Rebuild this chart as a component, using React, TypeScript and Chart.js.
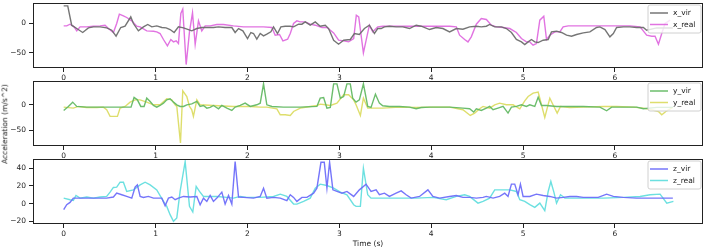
import React, { useEffect, useRef } from "react";
import { Chart, registerables } from "chart.js";
Chart.register(...registerables);

// ---------- data ----------
const xTicks = [0, 1, 2, 3, 4, 5, 6];

const xVirT = [0, 0.044, 0.087, 0.142, 0.207, 0.269, 0.323, 0.396, 0.468, 0.523, 0.57, 0.621, 0.668, 0.73, 0.759, 0.813, 0.868, 0.915, 0.959, 1.013, 1.068, 1.115, 1.158, 1.202, 1.249, 1.304, 1.358, 1.394, 1.449, 1.503, 1.558, 1.63, 1.685, 1.757, 1.83, 1.866, 1.903, 1.95, 2.001, 2.037, 2.066, 2.102, 2.139, 2.175, 2.211, 2.255, 2.284, 2.327, 2.364, 2.411, 2.465, 2.502, 2.556, 2.593, 2.629, 2.683, 2.738, 2.792, 2.847, 2.883, 2.938, 2.992, 3.047, 3.119, 3.164, 3.218, 3.273, 3.327, 3.382, 3.418, 3.455, 3.491, 3.545, 3.618, 3.691, 3.764, 3.836, 3.891, 3.982, 4.055, 4.127, 4.2, 4.273, 4.345, 4.418, 4.491, 4.545, 4.6, 4.636, 4.691, 4.764, 4.818, 4.873, 4.927, 4.982, 5.018, 5.055, 5.091, 5.127, 5.164, 5.218, 5.273, 5.309, 5.364, 5.418, 5.473, 5.527, 5.582, 5.655, 5.727, 5.8, 5.836, 5.891, 5.945, 5.982, 6.018, 6.091, 6.164, 6.236, 6.309, 6.345, 6.455, 6.63];
const xVir = [29.2, 29.2, -3.4, -9.0, -15.7, -7.9, -6.2, -6.2, -7.9, -11.8, -21.9, -7.3, -5.1, 10.7, -0.6, -12.9, -6.2, -2.2, -6.2, -4.5, -7.3, -7.9, -10.7, -15.7, -6.2, -7.9, -10.7, -12.9, -9.0, -7.3, -7.3, -7.3, -6.2, -7.3, -7.3, -15.7, -9.0, -12.9, -25.9, -15.7, -17.4, -27.0, -17.4, -21.4, -18.5, -14.6, -6.2, -17.4, -6.2, -5.1, -5.1, -6.2, -1.7, -1.7, 2.2, -3.4, 2.2, -5.1, -3.4, -9.0, -28.7, -35.4, -28.7, -27.5, -17.4, -19.1, -9.0, -3.4, -17.4, -9.0, -9.0, -6.2, -5.1, -6.2, -6.2, -9.0, -3.4, -5.1, -10.7, -7.3, -9.0, -14.6, -9.0, -10.1, -6.2, -5.1, -6.2, -5.1, -2.2, -6.2, -6.2, -9.0, -15.7, -27.5, -31.5, -36.0, -31.5, -27.5, -31.5, -32.6, -28.7, -27.5, -14.6, -13.5, -15.7, -20.2, -21.9, -19.1, -16.3, -14.6, -7.3, -6.2, -10.7, -23.0, -17.4, -7.3, -6.2, -6.2, -7.3, -7.3, -11.8, -8.0, -8.0];

const xRealT = [0, 0.033, 0.069, 0.113, 0.142, 0.178, 0.251, 0.323, 0.396, 0.45, 0.487, 0.541, 0.577, 0.606, 0.65, 0.686, 0.741, 0.795, 0.832, 0.904, 0.977, 1.013, 1.049, 1.086, 1.129, 1.166, 1.195, 1.224, 1.249, 1.275, 1.296, 1.333, 1.369, 1.402, 1.431, 1.467, 1.503, 1.54, 1.594, 1.667, 1.739, 1.848, 1.957, 2.066, 2.175, 2.266, 2.302, 2.349, 2.386, 2.437, 2.466, 2.502, 2.538, 2.574, 2.629, 2.683, 2.738, 2.811, 2.865, 2.938, 2.992, 3.047, 3.101, 3.156, 3.185, 3.211, 3.262, 3.327, 3.364, 3.418, 3.473, 3.655, 3.836, 4.018, 4.2, 4.273, 4.309, 4.364, 4.4, 4.436, 4.491, 4.545, 4.6, 4.655, 4.709, 4.782, 4.855, 4.927, 4.982, 5.036, 5.073, 5.109, 5.145, 5.182, 5.225, 5.255, 5.291, 5.345, 5.4, 5.436, 5.491, 5.655, 5.873, 6.018, 6.164, 6.273, 6.345, 6.4, 6.436, 6.473, 6.509, 6.545, 6.6];
const xReal = [-4.5, -4.5, -1.7, -6.2, -12.9, -6.2, -6.2, -5.1, -4.5, -3.4, -9.0, -15.7, -0.6, 15.2, 12.4, 9.6, 3.9, -5.1, -6.2, -12.9, -13.5, -14.6, -17.4, -27.5, -38.2, -27.5, -31.5, -29.8, -34.3, 16.3, 23.6, -69.7, -14.6, 17.4, -36.0, 3.9, -12.9, -4.5, -4.5, -2.2, -2.2, -4.5, -6.2, -6.2, -6.2, -7.3, -20.2, -19.1, -29.8, -27.0, -17.4, -0.6, 3.9, 2.2, 2.2, -1.7, -3.4, -7.3, -7.3, -16.3, -28.7, -29.8, -31.5, -25.9, 13.5, 10.7, -50.0, -3.4, -14.6, -6.2, -5.1, -5.1, -5.1, -5.1, -5.1, -6.2, -20.2, -27.5, -31.5, -23.0, -1.7, 7.9, 6.2, -3.4, -6.2, -7.3, -9.0, -15.7, -25.9, -31.5, -31.5, -37.1, -34.3, 5.1, 11.8, -27.5, -20.2, -14.6, -14.6, -6.2, -4.5, -4.5, -4.5, -4.5, -4.5, -6.2, -20.2, -21.9, -21.9, -35.4, -17.4, -0.6, 5.1];

const yVirT = [0, 0.051, 0.098, 0.142, 0.251, 0.396, 0.541, 0.686, 0.733, 0.766, 0.802, 0.839, 0.875, 0.904, 0.941, 0.977, 1.013, 1.049, 1.086, 1.122, 1.158, 1.195, 1.231, 1.267, 1.304, 1.34, 1.394, 1.449, 1.485, 1.521, 1.558, 1.594, 1.63, 1.685, 1.721, 1.776, 1.83, 1.866, 1.921, 1.975, 2.03, 2.102, 2.139, 2.175, 2.211, 2.266, 2.393, 2.575, 2.756, 2.792, 2.829, 2.865, 2.902, 2.938, 2.974, 3.011, 3.047, 3.083, 3.119, 3.145, 3.182, 3.218, 3.262, 3.309, 3.345, 3.393, 3.436, 3.473, 3.545, 3.655, 3.764, 3.836, 3.891, 3.982, 4.2, 4.345, 4.418, 4.462, 4.491, 4.545, 4.6, 4.636, 4.673, 4.727, 4.782, 4.836, 4.873, 4.927, 4.982, 5.036, 5.073, 5.127, 5.164, 5.2, 5.255, 5.364, 5.473, 5.655, 5.836, 5.909, 5.964, 6.091, 6.236, 6.309, 6.455, 6.63];
const yVir = [-11.0, -3.2, 5.2, -3.2, -4.5, -4.5, -4.5, -4.5, -4.5, 14.3, 9.7, -3.2, -3.2, 13.0, 6.5, -1.3, -4.5, -1.3, 3.2, 9.7, 11.7, 5.2, 0, -3.2, -3.2, 0, 1.9, 6.5, -3.2, -1.3, -6.5, -5.2, -1.3, -7.8, -1.3, -6.5, -11.0, -4.5, -1.3, 3.2, -3.2, 0, 3.2, 40.9, 0, -3.2, -4.5, -4.5, -3.2, 13.0, 14.3, -6.5, -5.2, 40.9, 40.9, 13.0, 16.2, 40.9, 40.9, 13.0, 5.2, 9.7, 40.9, -3.2, -5.2, 20.8, 3.2, -1.9, -3.2, -3.2, -4.5, -7.8, -5.2, -4.5, -4.5, -6.5, -7.8, -14.3, -7.8, -11.0, -6.5, -3.2, -9.7, -6.5, -3.2, -16.2, -4.5, -3.2, 0, -3.2, 0, -3.2, 14.9, -1.3, -1.3, -3.2, -3.2, -3.2, -4.5, -11.7, -4.5, -4.5, -4.5, -7.8, -5.0, -5.0];

const yRealT = [0, 0.105, 0.16, 0.251, 0.36, 0.432, 0.468, 0.505, 0.559, 0.585, 0.614, 0.668, 0.723, 0.777, 0.832, 0.904, 0.977, 1.049, 1.122, 1.177, 1.213, 1.231, 1.271, 1.296, 1.34, 1.369, 1.394, 1.412, 1.449, 1.485, 1.63, 1.848, 2.03, 2.139, 2.211, 2.32, 2.357, 2.411, 2.466, 2.502, 2.575, 2.683, 2.756, 2.792, 2.847, 2.902, 2.974, 3.047, 3.101, 3.156, 3.182, 3.229, 3.262, 3.309, 3.4, 3.473, 3.655, 3.836, 4.018, 4.2, 4.345, 4.425, 4.473, 4.527, 4.564, 4.636, 4.691, 4.745, 4.818, 4.891, 4.964, 5.018, 5.055, 5.109, 5.164, 5.2, 5.236, 5.291, 5.335, 5.371, 5.407, 5.509, 5.655, 5.873, 6.018, 6.2, 6.309, 6.4, 6.473, 6.509, 6.564, 6.63];
const yReal = [-4.5, -6.5, -3.2, -5.2, -5.2, -4.5, -9.7, -22.7, -22.7, -22.7, -6.5, -3.2, 5.2, 9.7, 9.7, 5.2, 0, 0, 11.7, 9.7, 0, -3.2, -74.6, 27.3, 16.2, -3.2, -9.7, -22.7, 9.7, 0, -1.3, -3.2, -3.2, -4.5, -4.5, -7.8, -19.5, -19.5, -20.8, -13.0, -6.5, -3.2, -1.3, 1.3, 0, -1.3, 3.2, 19.5, 19.5, 9.7, 0, -20.8, 13.0, -6.5, -6.5, -6.5, -4.5, -5.2, -4.5, -4.5, -9.7, -20.8, -16.2, -7.8, -3.2, -6.5, 0, 3.2, 0, 0, -7.8, 7.8, 16.2, 22.7, 24.7, 0, -24.7, 13.0, -3.2, -16.2, -3.2, -5.2, -4.5, -3.2, -3.2, -4.5, -6.5, -9.7, -13.0, -19.5, -11.7, -5.2];

const zVirT = [0, 0.033, 0.069, 0.105, 0.178, 0.323, 0.468, 0.541, 0.577, 0.632, 0.686, 0.741, 0.777, 0.802, 0.832, 0.868, 0.922, 0.977, 1.031, 1.068, 1.104, 1.14, 1.177, 1.213, 1.249, 1.304, 1.376, 1.449, 1.485, 1.521, 1.558, 1.594, 1.63, 1.667, 1.721, 1.757, 1.794, 1.83, 1.866, 1.903, 1.957, 2.066, 2.139, 2.175, 2.211, 2.284, 2.357, 2.429, 2.466, 2.502, 2.538, 2.593, 2.647, 2.72, 2.756, 2.8, 2.836, 2.865, 2.894, 2.93, 2.974, 3.029, 3.083, 3.156, 3.218, 3.291, 3.345, 3.4, 3.436, 3.491, 3.545, 3.618, 3.673, 3.727, 3.782, 3.873, 3.964, 4.018, 4.091, 4.2, 4.273, 4.345, 4.418, 4.491, 4.564, 4.6, 4.673, 4.745, 4.8, 4.836, 4.873, 4.909, 4.945, 4.971, 5.0, 5.073, 5.145, 5.218, 5.291, 5.364, 5.436, 5.509, 5.582, 5.655, 5.727, 5.818, 5.909, 5.982, 6.091, 6.236, 6.382, 6.63];
const zVir = [-6.7, -1.1, 1.5, 6.3, 6.3, 6.3, 6.3, 7.5, 11.9, 10.1, 8.2, 6.3, 18.6, 21.2, 8.2, 7.1, 8.2, 6.3, 6.3, 6.3, -2.2, 6.3, 7.5, 4.5, 6.3, 8.2, 7.5, 8.2, -1.1, 6.3, 2.6, 9.3, 2.6, 6.3, 13.0, -0.4, 9.3, -0.4, 47.3, 7.5, 7.1, 6.3, 8.2, 17.5, 6.3, 7.1, 6.3, 3.4, 10.1, 7.1, 2.6, 7.1, 7.1, 11.9, 17.5, 46.6, 46.6, 17.5, 46.6, 15.6, 13.8, 11.9, 13.8, 8.2, 15.6, 22.0, 13.8, 15.6, 10.1, 11.9, 8.2, 11.9, 14.5, 10.1, 6.3, 8.2, 15.6, 8.2, 6.3, 8.2, 9.3, 7.1, 7.1, 6.3, 7.1, 8.2, 6.3, 8.2, 11.9, 8.2, 22.0, 22.0, 10.1, 22.0, 8.2, 8.2, 10.8, 9.3, 8.2, 6.3, 7.1, 8.2, 8.2, 7.1, 7.1, 7.1, 10.8, 8.2, 7.1, 6.3, 6.3, 6.3];

const zRealT = [0, 0.069, 0.105, 0.134, 0.178, 0.251, 0.323, 0.396, 0.468, 0.505, 0.541, 0.577, 0.614, 0.65, 0.686, 0.759, 0.832, 0.886, 0.941, 1.013, 1.086, 1.122, 1.158, 1.195, 1.231, 1.267, 1.322, 1.369, 1.405, 1.442, 1.478, 1.521, 1.594, 1.667, 1.776, 1.848, 1.921, 1.994, 2.139, 2.284, 2.357, 2.429, 2.502, 2.538, 2.611, 2.683, 2.738, 2.792, 2.865, 2.938, 3.011, 3.083, 3.156, 3.182, 3.229, 3.262, 3.309, 3.345, 3.436, 3.655, 3.836, 4.018, 4.164, 4.273, 4.364, 4.418, 4.509, 4.564, 4.636, 4.691, 4.782, 4.855, 4.927, 4.964, 5.018, 5.073, 5.127, 5.182, 5.236, 5.273, 5.302, 5.335, 5.364, 5.407, 5.455, 5.655, 5.873, 6.091, 6.273, 6.382, 6.491, 6.564, 6.636];
const zReal = [6.3, 4.5, 3.7, 9.3, 6.3, 7.5, 6.3, 7.5, 8.2, 13.0, 18.3, 18.6, 24.2, 24.2, 13.8, 15.6, 21.2, 24.2, 21.2, 15.6, 2.6, -3.0, -12.3, -19.7, -16.0, 13.8, 47.3, -3.0, -9.3, 19.4, 13.8, 8.2, 8.2, 8.2, 7.1, 6.3, 8.2, 7.1, 7.1, 8.2, 10.8, 8.2, -0.4, -0.4, 2.6, 6.3, 17.5, 22.0, 20.5, 17.5, 13.0, 10.1, -1.1, -3.0, -3.0, 39.9, 10.1, 6.3, 6.3, 6.3, 6.3, 7.1, 4.5, 8.2, 10.1, 8.2, 0.7, 2.6, 6.3, 15.6, 15.6, 15.6, 13.8, 4.5, 2.6, -1.1, -4.1, 0.7, -7.8, 13.8, 25.0, 13.0, 0.7, 10.1, 6.3, 6.3, 6.3, 7.1, 8.2, 10.1, 10.8, 0.7, 2.6];

const panels = [
  { names: ["x_vir", "x_real"], t: [xVirT, xRealT], v: [xVir, xReal], colors: ["rgba(110,110,110,0.95)", "rgba(222,100,222,0.9)"], yMin: -75.5, yMax: 34, yTicks: [-50, 0] },
  { names: ["y_vir", "y_real"], t: [yVirT, yRealT], v: [yVir, yReal], colors: ["rgba(100,185,100,0.95)", "rgba(220,220,100,0.95)"], yMin: -80.5, yMax: 46.5, yTicks: [-50, 0] },
  { names: ["z_vir", "z_real"], t: [zVirT, zRealT], v: [zVir, zReal], colors: ["rgba(110,110,250,0.95)", "rgba(100,222,222,0.95)"], yMin: -22.8, yMax: 50.3, yTicks: [-20, 0, 20, 40] },
];

const FONT = "'DejaVu Sans', sans-serif";
const FS = 7.5;
const CW = 707;
const CH = 86;
const PLOT_TOP = 3;
const PLOT_BOTTOM = 68;
const PLOT_LEFT = 33;
const PLOT_RIGHT = 703;

const fmt = (v: number) => (v < 0 ? "\u2212" + Math.abs(v) : String(v));

const framePlugin = {
  id: "frame",
  afterDatasetsDraw(chart: any) {
    const { ctx, chartArea } = chart;
    ctx.save();
    ctx.strokeStyle = "#222";
    ctx.lineWidth = 1;
    ctx.strokeRect(Math.round(chartArea.left) + 0.5, Math.round(chartArea.top) + 0.5, Math.round(chartArea.right - chartArea.left) - 1, Math.round(chartArea.bottom - chartArea.top) - 1);
    ctx.restore();
  },
};

const legendPlugin = {
  id: "inLegend",
  afterDraw(chart: any) {
    const { ctx, chartArea } = chart;
    const dsets = chart.data.datasets;
    const w = 53, h = 28;
    const x0 = chartArea.right - 2 - w;
    const y0 = chartArea.top + 2;
    ctx.save();
    ctx.beginPath();
    const r = 2;
    ctx.moveTo(x0 + r, y0);
    ctx.lineTo(x0 + w - r, y0);
    ctx.arcTo(x0 + w, y0, x0 + w, y0 + r, r);
    ctx.lineTo(x0 + w, y0 + h - r);
    ctx.arcTo(x0 + w, y0 + h, x0 + w - r, y0 + h, r);
    ctx.lineTo(x0 + r, y0 + h);
    ctx.arcTo(x0, y0 + h, x0, y0 + h - r, r);
    ctx.lineTo(x0, y0 + r);
    ctx.arcTo(x0, y0, x0 + r, y0, r);
    ctx.closePath();
    ctx.fillStyle = "rgba(255,255,255,0.8)";
    ctx.fill();
    ctx.strokeStyle = "#d0d0d0";
    ctx.lineWidth = 1;
    ctx.stroke();
    dsets.forEach((ds: any, i: number) => {
      const y = y0 + 8 + i * 11.5;
      ctx.strokeStyle = ds.borderColor;
      ctx.lineWidth = 1.5;
      ctx.beginPath();
      ctx.moveTo(x0 + 2, y);
      ctx.lineTo(x0 + 20, y);
      ctx.stroke();
      ctx.fillStyle = "#222";
      ctx.font = FS + "px " + FONT;
      ctx.textBaseline = "middle";
      ctx.textAlign = "left";
      ctx.fillText(ds.label, x0 + 25, y + 0.5);
    });
    ctx.restore();
  },
};

function Panel({ idx }: { idx: number }) {
  const ref = useRef<HTMLCanvasElement | null>(null);
  useEffect(() => {
    const p = panels[idx];
    const chart = new Chart(ref.current as HTMLCanvasElement, {
      type: "line",
      data: {
        datasets: p.names.map((n, k) => ({
          label: n,
          data: p.t[k].map((tt, j) => ({ x: tt, y: p.v[k][j] })),
          borderColor: p.colors[k],
          borderWidth: 1.4,
          pointRadius: 0,
          tension: 0,
          fill: false,
        })),
      },
      options: {
        responsive: false,
        animation: false,
        devicePixelRatio: 1,
        layout: { padding: { top: PLOT_TOP, left: 0, right: CW - PLOT_RIGHT, bottom: 0 } },
        plugins: { legend: { display: false }, tooltip: { enabled: false } },
        scales: {
          x: {
            type: "linear",
            min: -0.334,
            max: 6.958,
            afterBuildTicks: (s: any) => { s.ticks = xTicks.map((v) => ({ value: v })); },
            afterFit: (s: any) => { s.height = CH - PLOT_BOTTOM; s.paddingLeft = 0; s.paddingRight = 0; },
            grid: { display: true, drawOnChartArea: false, drawTicks: true, tickLength: 4, color: "#222" },
            border: { display: false },
            ticks: { color: "#222", font: { family: FONT, size: FS }, padding: 2, maxRotation: 0, autoSkip: false, callback: (v: any) => fmt(Number(v)) },
          },
          y: {
            type: "linear",
            min: p.yMin,
            max: p.yMax,
            afterBuildTicks: (s: any) => { s.ticks = p.yTicks.map((v) => ({ value: v })); },
            afterFit: (s: any) => { s.width = PLOT_LEFT; s.paddingTop = 0; s.paddingBottom = 0; },
            grid: { display: true, drawOnChartArea: false, drawTicks: true, tickLength: 4, color: "#222" },
            border: { display: false },
            ticks: { color: "#222", font: { family: FONT, size: FS }, padding: 3, autoSkip: false, callback: (v: any) => fmt(Number(v)) },
          },
        },
      },
      plugins: [framePlugin, legendPlugin],
    } as any);
    return () => chart.destroy();
  }, [idx]);
  return (
    <canvas
      ref={ref}
      width={CW}
      height={CH}
      style={{ position: "absolute", left: 0, top: idx * 78, width: CW, height: CH }}
    />
  );
}

export default function App() {
  return (
    <div style={{ position: "absolute", left: 0, top: 0, width: 707, height: 249, background: "#fff", overflow: "hidden", fontFamily: FONT }}>
      <Panel idx={0} />
      <Panel idx={1} />
      <Panel idx={2} />
      <div
        style={{
          position: "absolute",
          left: 4.5,
          top: 124,
          transform: "translate(-50%, -50%) rotate(-90deg)",
          whiteSpace: "nowrap",
          fontSize: FS,
          color: "#222",
          lineHeight: 1,
        }}
      >
        Acceleration (m/s^2)
      </div>
      <div
        style={{
          position: "absolute",
          left: 368,
          top: 244,
          transform: "translate(-50%, -50%)",
          whiteSpace: "nowrap",
          fontSize: FS,
          color: "#222",
          lineHeight: 1,
        }}
      >
        Time (s)
      </div>
    </div>
  );
}
